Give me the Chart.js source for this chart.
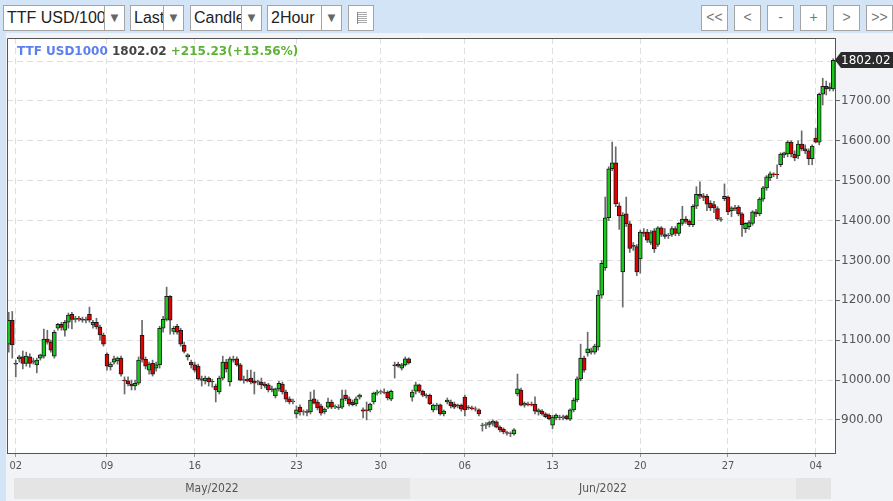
<!DOCTYPE html>
<html>
<head>
<meta charset="utf-8">
<script src="https://cdn.jsdelivr.net/npm/chart.js@4.4.1/dist/chart.umd.min.js"></script>
<style>
  html, body { margin: 0; padding: 0; }
  body { width: 893px; height: 501px; background: #d4e4f7; position: relative; overflow: hidden;
         font-family: "Liberation Sans", Arial, sans-serif; }
  .sel { position: absolute; top: 5px; height: 26px; background: #fff; border: 1px solid #a4a4a4;
         box-sizing: border-box; font-size: 16px; line-height: 24px; color: #222; overflow: hidden; white-space: nowrap; }
  .sel .txt { position: absolute; left: 3px; top: 0; }
  .sel .arr { position: absolute; right: 0; top: 0; bottom: 0; width: 19px; border-left: 1px solid #a4a4a4;
              background: #fff; color: #666; font-size: 13px; text-align: center; }
  .btn { position: absolute; top: 5px; width: 27px; height: 26px; background: #fff; border: 1px solid #a4a4a4;
         box-sizing: border-box; font-size: 14px; line-height: 23px; color: #777; text-align: center; }
  .icon { position: absolute; top: 5px; left: 348px; width: 26px; height: 26px; background: #fff;
          border: 1px solid #a4a4a4; box-sizing: border-box; }
  .icon div { position: absolute; left: 8px; top: 6px; width: 9px; height: 12px; border-left: 1px solid #888;
              background: repeating-linear-gradient(#aaa 0 1px, transparent 1px 2px); }
  #wrap { position: absolute; left: 6px; top: 33px; width: 887px; height: 468px; }
</style>
</head>
<body>
<div class="sel" style="left:3px;width:122px"><span class="txt">TTF USD/1000</span><span class="arr">▼</span></div>
<div class="sel" style="left:130px;width:54px"><span class="txt">Last</span><span class="arr">▼</span></div>
<div class="sel" style="left:190px;width:72px"><span class="txt">Candle</span><span class="arr">▼</span></div>
<div class="sel" style="left:267px;width:75px"><span class="txt">2Hour</span><span class="arr">▼</span></div>
<div class="icon"><div></div></div>
<div class="btn" style="left:701px">&lt;&lt;</div>
<div class="btn" style="left:734px">&lt;</div>
<div class="btn" style="left:767px">-</div>
<div class="btn" style="left:800px">+</div>
<div class="btn" style="left:833px">&gt;</div>
<div class="btn" style="left:866px">&gt;&gt;</div>

<div id="wrap"><canvas id="chart" width="887" height="468" style="width:887px;height:468px"></canvas></div>

<script>
// 2-hour candles, 29 Apr - 4 Jul 2022
const opens = [
  1090,1150,1042,1053,1058,1042,1058,1045,1038,1055,
  1060,1103,1095,1060,1130,1140,1125,1145,1165,1152,
  1155,1153,1150,1165,1138,1145,1133,1113,1065,1033,
  1045,1048,1055,1000,998,990,985,992,1112,1052,
  1025,1042,1030,1038,1130,1152,1210,1122,1135,1125,
  1088,1058,1045,1038,1035,1003,998,1005,997,985,
  970,1005,1045,995,1052,1053,1038,1000,1002,1005,
  998,995,995,990,988,978,960,978,990,970,
  953,946,915,932,920,921,920,953,945,935,
  920,932,945,933,932,932,962,953,945,940,
  957,925,925,925,945,967,970,970,970,952,
  1038,1040,1030,1038,1053,957,972,988,972,962,
  962,925,937,938,915,945,945,940,937,937,
  957,932,930,928,925,887,887,889,892,895,
  882,877,868,867,865,965,975,937,940,940,
  940,920,922,915,912,887,905,907,905,910,
  902,925,950,1003,1055,1068,1073,1070,1083,1213,
  1281,1407,1530,1545,1437,1271,1417,1392,1338,1335,
  1304,1371,1371,1345,1374,1340,1382,1365,1362,1365,
  1380,1368,1393,1404,1398,1390,1436,1466,1462,1461,
  1444,1440,1430,1404,1455,1459,1425,1432,1434,1417,
  1380,1385,1393,1422,1417,1454,1482,1507,1517,1516,
  1540,1565,1567,1597,1567,1562,1592,1580,1575,1555,
  1607,1597,1717,1737,1730,1730
];
const highs = [
  1170,1172,1050,1062,1073,1070,1066,1055,1055,1065,
  1128,1125,1100,1125,1142,1145,1150,1168,1170,1160,
  1160,1158,1158,1183,1150,1155,1138,1118,1068,1045,
  1060,1058,1060,1008,1008,1000,1000,1058,1150,1058,
  1045,1050,1045,1135,1160,1233,1212,1135,1140,1130,
  1095,1066,1050,1045,1040,1010,1010,1008,1002,990,
  1010,1060,1052,1058,1060,1058,1042,1010,1025,1025,
  1020,1000,1005,995,992,985,980,997,995,975,
  958,952,935,938,925,926,970,975,950,940,
  930,955,950,938,938,975,975,958,950,958,
  965,930,945,942,970,975,975,978,973,975,
  1045,1045,1042,1058,1056,975,995,990,975,966,
  965,940,942,940,925,955,950,945,940,940,
  962,936,935,933,928,892,893,897,900,898,
  885,880,872,870,878,1015,980,945,945,945,
  958,928,926,918,915,912,915,912,912,912,
  928,955,1008,1090,1060,1120,1080,1090,1225,1300,
  1459,1535,1597,1585,1445,1420,1459,1398,1345,1340,
  1376,1380,1378,1375,1380,1385,1385,1380,1368,1385,
  1385,1395,1436,1410,1402,1440,1485,1497,1468,1466,
  1450,1448,1435,1408,1492,1462,1435,1438,1438,1420,
  1395,1400,1425,1428,1458,1486,1513,1522,1520,1540,
  1570,1572,1600,1600,1575,1600,1625,1590,1580,1590,
  1632,1720,1757,1750,1745,1806
];
const lows = [
  1070,1055,1008,1045,1028,1035,1032,1040,1018,1050,
  1055,1090,1070,1055,1125,1125,1110,1130,1128,1145,
  1148,1145,1143,1145,1130,1128,1100,1085,1025,1025,
  1040,1040,1010,965,985,975,975,988,1045,1028,
  1015,1010,1022,1030,1120,1148,1115,1115,1115,1085,
  1068,1050,1030,1020,1000,985,990,985,982,945,
  965,1000,1020,985,1045,1035,998,992,995,990,
  965,988,978,980,970,970,955,972,965,945,
  940,940,905,912,912,910,915,940,925,912,
  915,928,928,928,926,928,948,935,935,935,
  952,905,900,920,940,962,965,965,950,948,
  1005,1032,1025,1035,1040,947,965,968,958,955,
  938,920,925,912,910,940,930,928,930,922,
  910,926,925,922,910,872,878,882,885,880,
  870,865,862,858,862,960,935,932,935,935,
  915,912,912,905,900,878,900,900,900,900,
  898,920,945,998,1020,1060,1065,1065,1075,1205,
  1275,1400,1525,1435,1378,1183,1385,1320,1325,1262,
  1268,1360,1345,1340,1320,1335,1360,1355,1355,1360,
  1362,1362,1388,1393,1385,1385,1430,1455,1450,1425,
  1425,1420,1400,1398,1450,1415,1410,1425,1412,1360,
  1370,1378,1388,1410,1412,1448,1476,1500,1510,1505,
  1535,1558,1560,1560,1550,1555,1575,1568,1540,1540,
  1595,1590,1690,1715,1725,1725
];
const closes = [
  1150,1088,1040,1058,1042,1060,1042,1048,1050,1063,
  1103,1095,1075,1120,1140,1132,1145,1163,1152,1155,
  1153,1150,1152,1150,1145,1133,1113,1090,1035,1040,
  1053,1055,1015,998,990,985,992,1050,1052,1035,
  1040,1015,1038,1130,1152,1210,1150,1130,1120,1090,
  1072,1063,1038,1025,1003,1000,1005,995,995,975,
  1005,1045,1028,1053,1050,1038,1000,1002,998,995,
  992,996,988,985,975,976,978,992,970,952,
  945,947,925,920,921,919,950,942,930,917,
  927,945,932,934,931,953,953,940,938,953,
  962,922,923,940,967,970,971,969,955,972,
  1036,1035,1038,1053,1043,970,988,972,962,960,
  940,937,936,915,922,950,935,932,936,927,
  925,931,928,927,915,886,888,893,897,882,
  875,870,867,866,875,978,937,942,938,937,
  922,925,915,908,903,907,912,906,908,903,
  925,950,1003,1055,1025,1078,1070,1085,1213,1293,
  1407,1530,1545,1442,1412,1414,1392,1330,1335,1271,
  1371,1368,1351,1370,1329,1382,1365,1360,1363,1380,
  1368,1393,1404,1398,1390,1436,1466,1461,1458,1441,
  1432,1432,1404,1403,1461,1422,1432,1430,1417,1390,
  1393,1395,1422,1417,1454,1482,1510,1517,1515,1515,
  1567,1570,1597,1567,1557,1592,1580,1575,1555,1587,
  1597,1717,1737,1730,1735,1802.02
];

// x-axis: bar index of each Monday and its label
const tickIndex = [2, 28, 53, 82, 106, 130, 155, 180, 205, 230];
const tickText = ['02', '09', '16', '23', '30', '06', '13', '20', '27', '04'];

// month band under the axis
const monthText = ['May/2022', 'Jun/2022', ''];
const monthStart = [2, 115, 225];
const monthEnd = [115, 225, 236];
const monthFill = ['#e4e4e4', '#eeeeee', '#e4e4e4'];

const yTicks = [900, 1000, 1100, 1200, 1300, 1400, 1500, 1600, 1700, 1800];

const titleName = 'TTF USD1000';
const titleLast = '1802.02';
const titleChange = '+215.23(+13.56%)';
const lastPrice = 1802.02;

const GREEN = '#18c818';
const RED = '#e00000';

const xLabels = opens.map(() => '');
tickIndex.forEach((idx, k) => { xLabels[idx] = tickText[k]; });

const framePlugin = {
    id: 'frame',
    beforeDraw(chart) {
        const { ctx, chartArea: a, scales: { x } } = chart;
        ctx.save();
        ctx.fillStyle = '#f1f3f6';
        ctx.fillRect(0, 0, chart.width, chart.height);
        ctx.fillStyle = '#ffffff';
        ctx.fillRect(a.left, a.top, a.right - a.left, a.bottom - a.top);

        // month band
        const half = (x.getPixelForValue(1) - x.getPixelForValue(0)) / 2;
        ctx.font = '12px "DejaVu Sans Condensed", "DejaVu Sans", sans-serif';
        ctx.textAlign = 'center';
        ctx.textBaseline = 'middle';
        monthText.forEach((txt, k) => {
            const x0 = Math.round(x.getPixelForValue(monthStart[k]) - half);
            let x1 = Math.round(x.getPixelForValue(monthEnd[k] - 1) + half);
            if (k === monthText.length - 1) x1 = Math.min(x1, Math.round(a.right - 4));
            ctx.fillStyle = monthFill[k];
            ctx.fillRect(x0, 445, x1 - x0, 21);
            if (txt) {
                ctx.fillStyle = '#555';
                ctx.fillText(txt, (x0 + x1) / 2, 456);
            }
        });
        ctx.restore();
    },
    afterDraw(chart) {
        const { ctx, chartArea: a, scales: { y } } = chart;
        ctx.save();
        // top and left frame lines
        ctx.strokeStyle = '#555';
        ctx.lineWidth = 1;
        ctx.beginPath();
        ctx.moveTo(Math.round(a.left) + 0.5, a.bottom);
        ctx.lineTo(Math.round(a.left) + 0.5, Math.round(a.top) + 0.5);
        ctx.lineTo(a.right, Math.round(a.top) + 0.5);
        ctx.stroke();

        // title line
        ctx.font = 'bold 12px "DejaVu Sans", sans-serif';
        ctx.textAlign = 'left';
        ctx.textBaseline = 'alphabetic';
        let tx = a.left + 10;
        const ty = a.top + 17;
        ctx.fillStyle = '#5b80ee';
        ctx.fillText(titleName, tx, ty);
        tx += ctx.measureText(titleName + ' ').width;
        ctx.fillStyle = '#444';
        ctx.fillText(titleLast, tx, ty);
        tx += ctx.measureText(titleLast + ' ').width;
        ctx.fillStyle = '#5cb335';
        ctx.fillText(titleChange, tx, ty);

        // last price marker on the right axis
        const py = Math.round(y.getPixelForValue(lastPrice));
        const bx = Math.round(a.right);
        ctx.fillStyle = '#2b2b2b';
        ctx.beginPath();
        ctx.moveTo(bx, py);
        ctx.lineTo(bx + 6, py - 8);
        ctx.lineTo(chart.width, py - 8);
        ctx.lineTo(chart.width, py + 8);
        ctx.lineTo(bx + 6, py + 8);
        ctx.closePath();
        ctx.fill();
        ctx.fillStyle = '#ffffff';
        ctx.font = '12px "DejaVu Sans", sans-serif';
        ctx.textBaseline = 'middle';
        ctx.fillText(lastPrice.toFixed(2), bx + 6, py + 1);
        ctx.restore();
    }
};

new Chart(document.getElementById('chart'), {
    type: 'bar',
    data: {
        labels: xLabels,
        datasets: [
            {
                label: 'body',
                data: opens.map((o, i) => [o, closes[i]]),
                backgroundColor: opens.map((o, i) => closes[i] >= o ? GREEN : RED),
                borderColor: '#1a1a1a',
                borderWidth: 1,
                borderSkipped: false,
                barThickness: 4,
                grouped: false,
                order: 0
            },
            {
                label: 'wick',
                data: lows.map((l, i) => [l, highs[i]]),
                backgroundColor: '#6a6a6a',
                borderWidth: 0,
                barThickness: 1,
                grouped: false,
                order: 1
            }
        ]
    },
    options: {
        responsive: false,
        animation: false,
        devicePixelRatio: 1,
        layout: { padding: { left: 1, top: 5, right: 0, bottom: 0 } },
        plugins: { legend: { display: false }, tooltip: { enabled: false } },
        scales: {
            x: {
                offset: true,
                grid: {
                    offset: false,
                    color: c => xLabels[c.index] ? '#dedede' : 'rgba(0,0,0,0)',
                    tickColor: c => xLabels[c.index] ? '#999' : 'rgba(0,0,0,0)',
                    tickLength: 4
                },
                border: { color: '#555', dash: [6, 4] },
                ticks: {
                    autoSkip: false,
                    maxRotation: 0,
                    padding: 3,
                    color: '#555',
                    font: { family: '"DejaVu Sans Condensed", "DejaVu Sans"', size: 11 },
                    callback: (v, i) => xLabels[i]
                },
                afterFit: s => { s.height = 48; s.paddingLeft = 0; s.paddingRight = 0; }
            },
            y: {
                position: 'right',
                min: 817,
                max: 1858,
                afterBuildTicks: s => { s.ticks = yTicks.map(v => ({ value: v })); },
                grid: { color: '#dedede', tickColor: '#666', tickLength: 5 },
                border: { color: '#555', dash: [6, 4] },
                ticks: {
                    padding: 1,
                    color: '#555',
                    font: { family: '"DejaVu Sans"', size: 12 },
                    callback: v => Number(v).toFixed(2)
                },
                afterFit: s => { s.width = 58; s.paddingTop = 0; s.paddingBottom = 0; }
            }
        }
    },
    plugins: [framePlugin]
});
</script>
</body>
</html>
